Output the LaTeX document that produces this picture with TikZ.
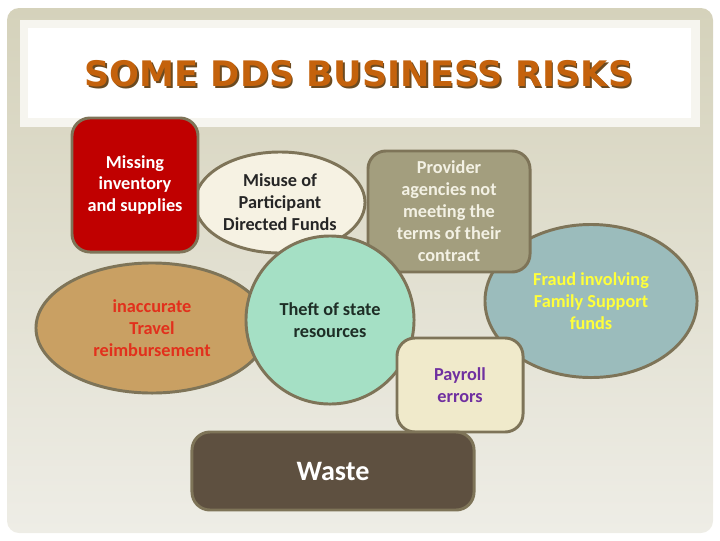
\documentclass[tikz,border=0pt]{standalone}
\usepackage{fontspec}
\setmainfont{Carlito}
\newfontfamily\titlefont{DejaVu Sans}
\usepackage{tikz}
\usetikzlibrary{shapes.geometric}
\definecolor{slidetan}{HTML}{D5D2BB}
\definecolor{slidelight}{HTML}{EEEDE6}
\definecolor{stripcol}{HTML}{F6F5EF}
\definecolor{edgecol}{HTML}{7E7458}
\definecolor{titleorange}{HTML}{C4620C}
\definecolor{titleshadow}{HTML}{6B4A20}
\definecolor{missred}{HTML}{C00000}
\definecolor{misusecream}{HTML}{F6F2E3}
\definecolor{provolive}{HTML}{A39E7E}
\definecolor{provtext}{HTML}{F3F1E4}
\definecolor{fraudblue}{HTML}{9BBCBC}
\definecolor{fraudtext}{HTML}{FFFF3A}
\definecolor{theftmint}{HTML}{A5E0C5}
\definecolor{thefttext}{HTML}{1E2E26}
\definecolor{travelcol}{HTML}{C9A063}
\definecolor{traveltext}{HTML}{E2301C}
\definecolor{payrollcol}{HTML}{F0EACB}
\definecolor{payrolltext}{HTML}{7030A0}
\definecolor{wastecol}{HTML}{5E5040}
\tikzset{%
  riskbase/.style={draw=edgecol, line width=2.1pt, inner sep=0pt, align=center,
    font=\bfseries\fontsize{13}{15.6}\selectfont},
  riskbox/.style={riskbase, rectangle, rounded corners=0.45cm},
  riskoval/.style={riskbase, ellipse},
  riskround/.style={riskbase, circle}
}

\begin{document}
\begin{tikzpicture}[x=0.025cm, y=-0.025cm]
  \useasboundingbox (0,0) rectangle (720,540);
  % slide background
  \shade[top color=slidetan, bottom color=slidelight, rounded corners=0.3cm]
    (7,8) rectangle (713,533);
  \fill[stripcol] (20,20) rectangle (700,127);
  \fill[white] (28,28) rectangle (691,118);
  \node[text=titleshadow] (shadow) at (360.5,75.5)
    {\titlefont\bfseries\fontsize{25}{30}\selectfont SOME DDS BUSINESS RISKS};
  \node[text=titleorange] (title) at (359,74)
    {\titlefont\bfseries\fontsize{25}{30}\selectfont SOME DDS BUSINESS RISKS};
  % risks
  \node[riskoval, fill=misusecream, text=black!85, minimum width=4.25cm, minimum height=2.525cm] (misuse) at (280,202.5) {Misuse of\\Participant\\Directed Funds};
  \node[riskbox, fill=missred, text=white, minimum width=3.15cm, minimum height=3.35cm] (missing) at (135,185) {Missing\\inventory\\and supplies};
  \node[riskoval, fill=travelcol, text=traveltext, minimum width=5.8cm, minimum height=3.25cm] (travel) at (152,328) {inaccurate\\Travel\\reimbursement};
  \node[riskoval, fill=fraudblue, text=fraudtext, minimum width=5.3cm, minimum height=3.825cm] (fraud) at (591,301) {Fraud involving\\Family Support\\funds};
  \node[riskbox, fill=provolive, text=provtext, minimum width=4.05cm, minimum height=3.025cm] (provider) at (449,211.5) {Provider\\agencies not\\meeting the\\terms of their\\contract};
  \node[riskround, fill=theftmint, text=thefttext, minimum size=4.2cm] (theft) at (330,320) {Theft of state\\resources};
  \node[riskbox, fill=payrollcol, text=payrolltext, minimum width=3.15cm, minimum height=2.35cm] (payroll) at (460,385) {Payroll\\errors};
  \node[riskbox, fill=wastecol, text=white, minimum width=7.05cm, minimum height=1.95cm,
    font=\bfseries\fontsize{20}{24}\selectfont] (waste) at (333,471) {Waste};
\end{tikzpicture}
\end{document}
